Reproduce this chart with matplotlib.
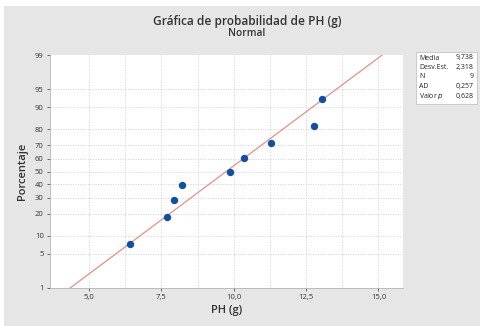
import matplotlib
matplotlib.use("Agg")
import matplotlib.pyplot as plt
from matplotlib.patches import Rectangle
from statistics import NormalDist
import numpy as np

# Data
ph_values = [6.41, 7.68, 7.95, 8.22, 9.88, 10.37, 11.30, 12.79, 13.04]
mean_val = 9.738
std_val = 2.318
y_ticks_pct = [1, 5, 10, 20, 30, 40, 50, 60, 70, 80, 90, 95, 99]
x_ticks = [5.0, 7.5, 10.0, 12.5, 15.0]
x_tick_labels = ["5,0", "7,5", "10,0", "12,5", "15,0"]
stats_names = ["Media", "Desv.Est.", "N", "AD", "Valor p"]
stats_vals = ["9,738", "2,318", "9", "0,257", "0,628"]

plt.rcParams['font.family'] = ['Open Sans', 'DejaVu Sans']
nd = NormalDist()
W, H = 481, 326
fig = plt.figure(figsize=(W/100, H/100), dpi=100, facecolor='white')
bg = '#e6e6e6'
fig.patches.append(Rectangle((4/W, 0), (W-4)/W, (H-6)/H, transform=fig.transFigure,
                             facecolor=bg, edgecolor='none', zorder=-10))

ax = fig.add_axes([50/W, (H-288)/H, (403-50)/W, (288-55)/H])
ax.set_facecolor('white')

n = len(ph_values)
xs = sorted(ph_values)
pct = [(i + 1 - 0.3) / (n + 0.4) for i in range(n)]
zs = [nd.inv_cdf(p) for p in pct]

xlim = (3.65, 15.85)
ax.set_xlim(*xlim)
ax.set_ylim(nd.inv_cdf(0.01), nd.inv_cdf(0.99))

# grid
for v in np.arange(5.0, 15.01, 1.25):
    ax.axvline(v, color='#d4d4d4', lw=0.6, ls=(0, (1.5, 1.5)), zorder=0)
for p in y_ticks_pct[1:-1]:
    ax.axhline(nd.inv_cdf(p/100), color='#d4d4d4', lw=0.6, ls=(0, (1.5, 1.5)), zorder=0)

# fit line
lx = np.array(xlim)
ax.plot(lx, (lx - mean_val) / std_val, color='#e0918a', lw=0.9, zorder=2)
ax.plot(xs, zs, 'o', color='#1150a0', ms=4.3, zorder=3)

ax.set_yticks([nd.inv_cdf(p/100) for p in y_ticks_pct])
ax.set_yticklabels([str(p) for p in y_ticks_pct])
ax.set_xticks(x_ticks)
ax.set_xticklabels(x_tick_labels)
ax.tick_params(labelsize=5.5, colors='#333333', length=2.5, width=0.5, pad=2)
for s in ax.spines.values():
    s.set_visible(False)
ax.spines['left'].set_visible(True)
ax.spines['bottom'].set_visible(True)
ax.spines['left'].set_color('#aaaaaa')
ax.spines['bottom'].set_color('#aaaaaa')
ax.spines['left'].set_linewidth(0.5)
ax.spines['bottom'].set_linewidth(0.5)

ax.set_xlabel('PH (g)', fontsize=8, fontweight='semibold', color='#333333', labelpad=3)
ax.set_ylabel('Porcentaje', fontsize=8, fontweight='semibold', color='#333333', labelpad=5)

fig.text(247/W, 1 - 22/H, 'Gráfica de probabilidad de PH (g)', ha='center', va='center',
         fontsize=8.6, fontweight='semibold', color='#333333')
fig.text(247/W, 1 - 33.5/H, 'Normal', ha='center', va='center',
         fontsize=7.3, fontweight='semibold', color='#333333')

# stats box
bx0, by0, bx1, by1 = 416, 52, 477, 104
fig.patches.append(Rectangle((bx0/W, 1 - by1/H), (bx1-bx0)/W, (by1-by0)/H,
                             transform=fig.transFigure, facecolor='white',
                             edgecolor='#bbbbbb', lw=0.5))
for i, (nm, vl) in enumerate(zip(stats_names, stats_vals)):
    yy = 1 - (58 + i*9.5)/H
    label = nm if nm != 'Valor p' else 'Valor $\\it{p}$'
    fig.text(419/W, yy, label, ha='left', va='center', fontsize=5, color='#222222')
    fig.text(474/W, yy, vl, ha='right', va='center', fontsize=5, color='#222222')

fig.savefig('out.png', dpi=100, facecolor='white')
